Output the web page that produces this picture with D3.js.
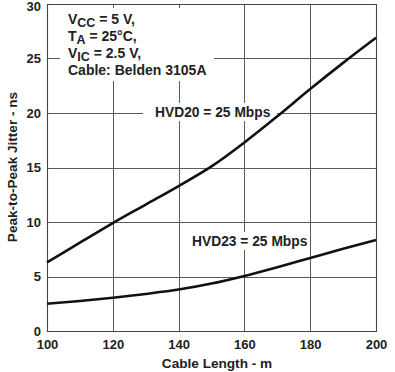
<!DOCTYPE html>
<html><head><meta charset="utf-8">
<script src="https://cdn.jsdelivr.net/npm/d3@7"></script>
<style>body{margin:0;background:#fff;}text{font-family:"Liberation Sans",Arial,sans-serif;font-weight:bold;fill:#222;}</style>
</head><body><svg id="c" width="395" height="372"></svg>
<script>
const lengths = [100,110,120,130,140,150,160,170,180,190,200];
const hvd20 = [6.3,8.1,9.9,11.6,13.3,15.1,17.3,19.7,22.2,24.6,26.9];
const hvd23 = [2.5,2.75,3.05,3.4,3.8,4.35,5.05,5.85,6.7,7.55,8.35];
const xTicks = [100,120,140,160,180,200];
const yTicks = [0,5,10,15,20,25,30];

const svg = d3.select("#c");
const L=47,R=376,T=4,B=331;
const xs = d3.scaleLinear().domain([100,200]).range([L,R]);
const ys = d3.scaleLinear().domain([0,30]).range([B,T]);

// gridlines
const grid = svg.append("g").attr("shape-rendering","crispEdges");
grid.selectAll("path.vx").data(xTicks).join("path").attr("class","vx")
 .attr("d",d=>`M${Math.round(xs(d))+0.5},${T}V${B}`)
 .attr("fill","none").attr("stroke","#5a5a5a").attr("stroke-width",1);
grid.selectAll("path.hy").data(yTicks).join("path").attr("class","hy")
 .attr("d",d=>`M${L},${Math.round(ys(d))+0.5}H${R}`)
 .attr("fill","none").attr("stroke","#5a5a5a").attr("stroke-width",1);

// white boxes behind labels
svg.append("rect").attr("x",60).attr("y",8).attr("width",154).attr("height",73).attr("fill","#fff");
svg.append("rect").attr("x",143).attr("y",103).attr("width",134).attr("height",18).attr("fill","#fff");
svg.append("rect").attr("x",187).attr("y",232).attr("width",122).attr("height",18).attr("fill","#fff");

// border
svg.append("path").attr("d",`M${L+0.5},${T+0.5}H${R+0.5}V${B+0.5}H${L+0.5}Z`)
 .attr("fill","none").attr("stroke","#444").attr("stroke-width",1.1);

// curves
const lineGen = d3.line().x(d=>xs(d[0])).y(d=>ys(d[1])).curve(d3.curveMonotoneX);
[hvd20,hvd23].forEach(s=>{
  svg.append("path").datum(lengths.map((l,i)=>[l,s[i]])).attr("d",lineGen)
   .attr("fill","none").attr("stroke","#111").attr("stroke-width",2.6);
});

// axes labels
const xa = svg.append("g").attr("transform",`translate(0,${B})`)
 .call(d3.axisBottom(xs).tickValues(xTicks).tickSize(0).tickPadding(9));
xa.select(".domain").remove();
xa.selectAll("text").attr("font-size",13).style("font-family","Liberation Sans, Arial, sans-serif").attr("font-weight","bold").attr("fill","#222");
const ya = svg.append("g").attr("transform",`translate(${L},0)`)
 .call(d3.axisLeft(ys).tickValues(yTicks).tickSize(0).tickPadding(6));
ya.select(".domain").remove();
ya.selectAll("text").attr("font-size",13).style("font-family","Liberation Sans, Arial, sans-serif").attr("font-weight","bold").attr("fill","#222");
ya.selectAll(".tick").filter(d=>d===30).select("text").attr("dy","0.5em");

svg.append("text").attr("x",217).attr("y",368).attr("text-anchor","middle").attr("font-size",13.6).text("Cable Length - m");
svg.append("text").attr("transform",`translate(17,167) rotate(-90)`).attr("text-anchor","middle").attr("font-size",13.6).text("Peak-to-Peak Jitter - ns");

// conditions
const cond = svg.append("g");
function sub(yv,a,s,b){
  const t = cond.append("text").attr("x",68).attr("y",yv).attr("font-size",14);
  t.append("tspan").text(a);
  t.append("tspan").attr("dy",3).attr("font-size",12.5).text(s);
  t.append("tspan").attr("dy",-3).text(b);
}
sub(24,"V","CC"," = 5 V,");
sub(41,"T","A"," = 25°C,");
sub(58,"V","IC"," = 2.5 V,");
cond.append("text").attr("x",68).attr("y",75).attr("font-size",14).text("Cable: Belden 3105A");

svg.append("text").attr("x",155).attr("y",117).attr("font-size",13.8).text("HVD20 = 25 Mbps");
svg.append("text").attr("x",192).attr("y",246).attr("font-size",13.8).text("HVD23 = 25 Mbps");
</script></body></html>
